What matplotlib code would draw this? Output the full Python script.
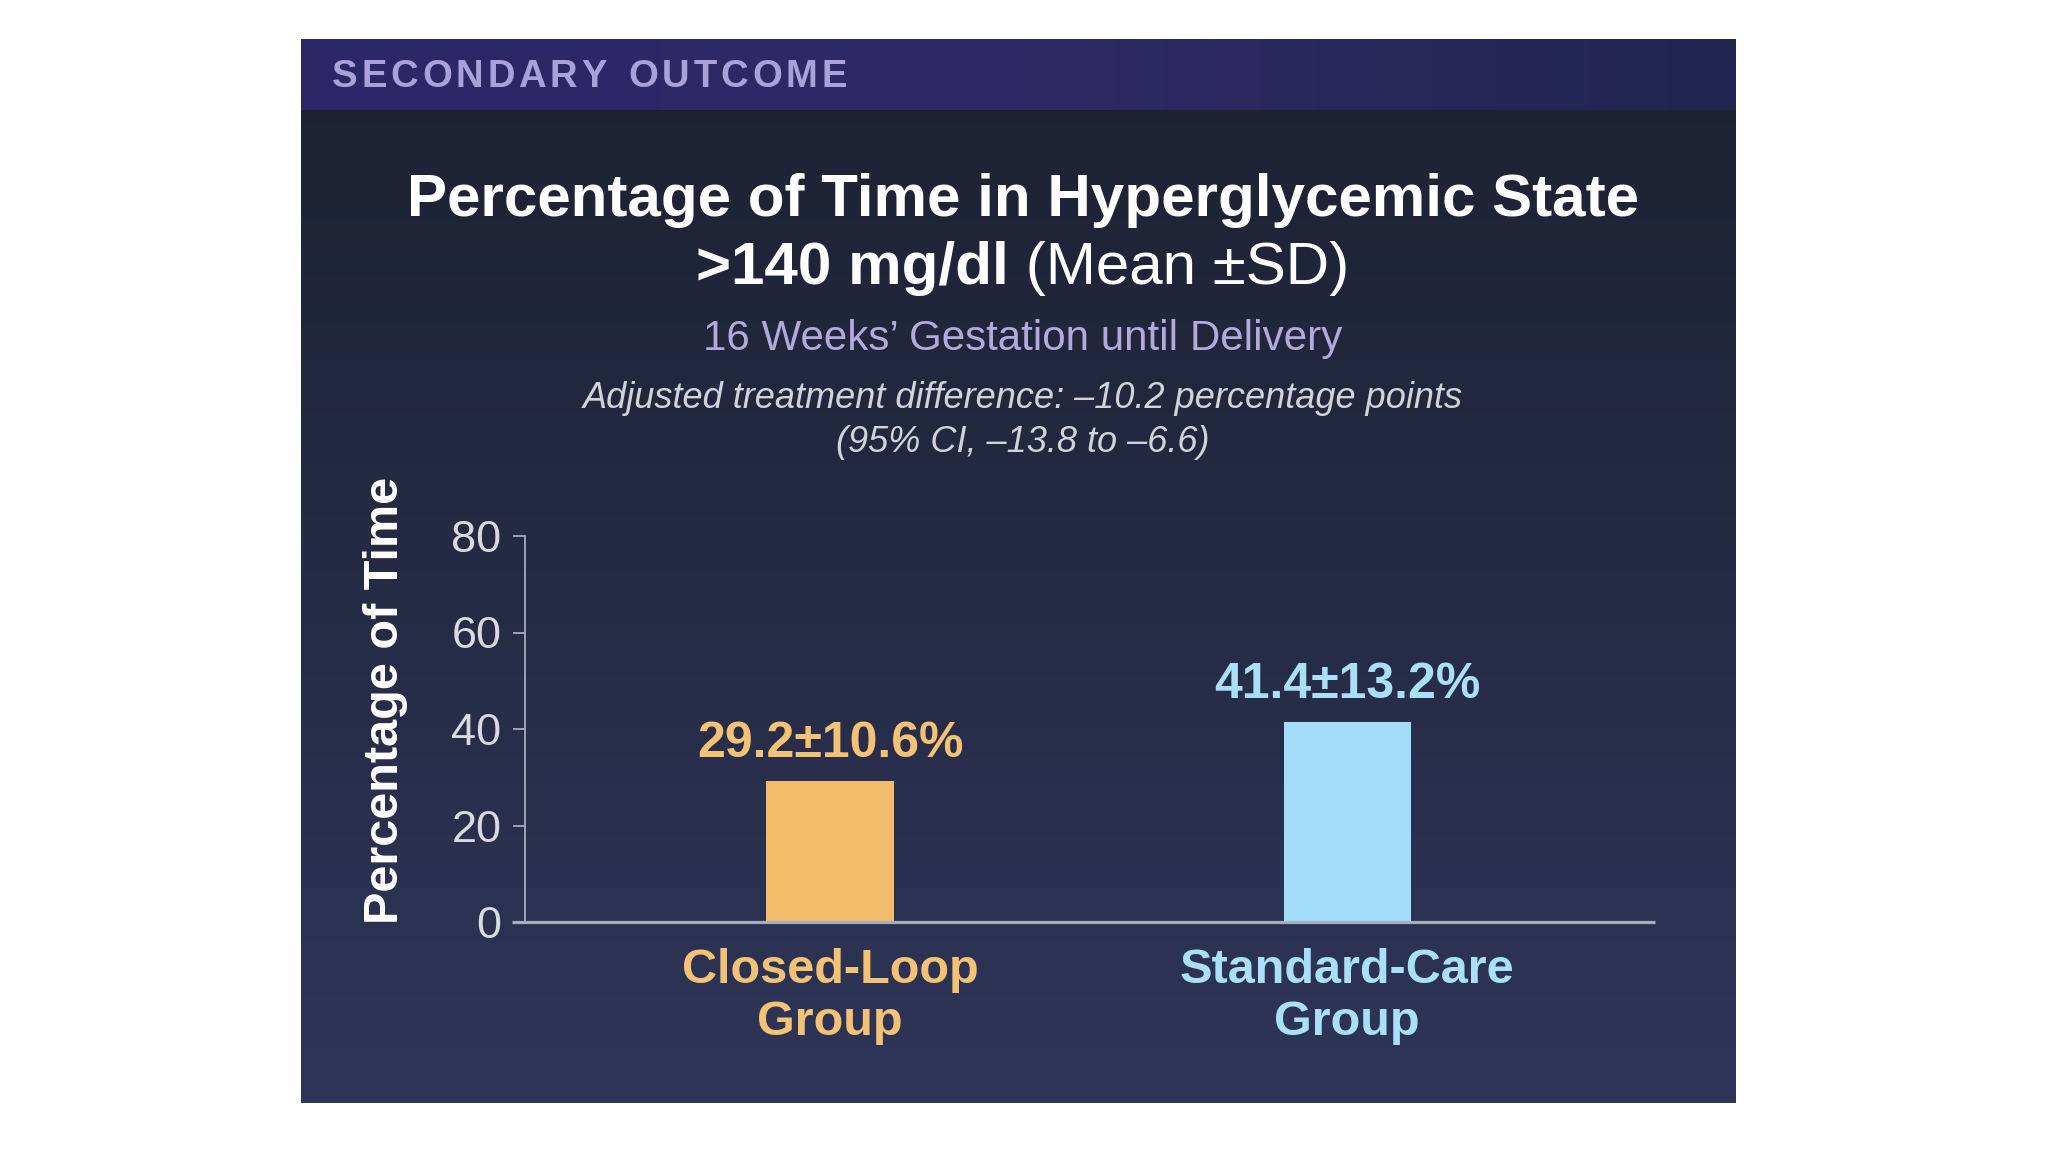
import numpy as np
import matplotlib
matplotlib.use("Agg")
import matplotlib.pyplot as plt
from matplotlib.colors import LinearSegmentedColormap

# ---- data ----
categories = ["Closed-Loop\nGroup", "Standard-Care\nGroup"]
means = [29.2, 41.4]
sds = [10.6, 13.2]
value_labels = ["29.2\u00b110.6%", "41.4\u00b113.2%"]
yticks = [0, 20, 40, 60, 80]

bar_colors = ["#f2bd6b", "#a3ddfa"]
label_colors = ["#f3c274", "#a9e0f8"]

W, H = 2048, 1152
fig = plt.figure(figsize=(W / 100, H / 100), dpi=100, facecolor="white")
plt.rcParams['font.family'] = ['Liberation Sans', 'DejaVu Sans']

def fx(px):
    return px / W

def fy(py):
    return 1 - py / H

# ---- panel background ----
pl, pr, pt, pb = 301, 1736, 39, 1103
bg = fig.add_axes([fx(pl), fy(pb), fx(pr - pl), (pb - pt) / H])
bg.set_axis_off()
grad = np.linspace(0, 1, 256).reshape(-1, 1)
cmap_body = LinearSegmentedColormap.from_list("body", ["#1c2131", "#252b44", "#2f3558"])
bg.imshow(grad, aspect="auto", cmap=cmap_body, extent=[0, 1, 0, 1], origin="upper")
# header band
hb = 110
hdr = fig.add_axes([fx(pl), fy(hb), fx(pr - pl), (hb - pt) / H])
hdr.set_axis_off()
hgrad = np.linspace(0, 1, 256).reshape(1, -1)
cmap_hdr = LinearSegmentedColormap.from_list("hdr", ["#2c2868", "#2e2a66", "#222550"])
hdr.imshow(hgrad, aspect="auto", cmap=cmap_hdr, extent=[0, 1, 0, 1])
hdr.set_xlim(0, 1)
hdr.set_ylim(0, 1)

renderer = fig.canvas.get_renderer()

# header text with letter spacing
htxt = "SECONDARY OUTCOME"
xcur = 332
for ch in htxt:
    t = fig.text(fx(xcur), fy(77), ch, fontsize=27.5, fontweight="bold",
                 color="#a9a2da", ha="left", va="center", family=["Liberation Sans", "DejaVu Sans"])
    if ch == " ":
        w = 14
    else:
        w = t.get_window_extent(renderer).width
    xcur += w + 3.8

cx = 1023
# title line 1
fig.text(fx(cx), fy(201), "Percentage of Time in Hyperglycemic State",
         fontsize=43.3, fontweight="bold", color="white", ha="center", va="center")
# title line 2 mixed weight
p1 = ">140 mg/dl"
p2 = " (Mean \u00b1SD)"
t1 = fig.text(0, fy(268), p1, fontsize=43.3, fontweight="bold", color="white", ha="left", va="center")
t2 = fig.text(0, fy(268), p2, fontsize=43.3, fontweight="normal", color="white", ha="left", va="center")
w1 = t1.get_window_extent(renderer).width
w2 = t2.get_window_extent(renderer).width
x0 = cx - (w1 + w2) / 2
t1.set_x(fx(x0))
t2.set_x(fx(x0 + w1))

fig.text(fx(cx), fy(339), "16 Weeks\u2019 Gestation until Delivery",
         fontsize=30.3, color="#b3a9dc", ha="center", va="center")
fig.text(fx(cx), fy(398), "Adjusted treatment difference: \u201310.2 percentage points",
         fontsize=26, fontstyle="italic", color="#d2d2da", ha="center", va="center")
fig.text(fx(cx), fy(442), "(95% CI, \u201313.8 to \u20136.6)",
         fontsize=26, fontstyle="italic", color="#d2d2da", ha="center", va="center")

# ---- main axes ----
axl, axr, axb, axt = 512, 1655, 922, 536
ax = fig.add_axes([fx(axl), fy(axb), fx(axr - axl), (axb - axt) / H])
ax.set_facecolor("none")
x = np.arange(len(categories))
ax.bar(x, means, width=0.246, color=bar_colors, zorder=2)
ax.set_xlim(-0.615, 1.595)
ax.set_ylim(0, 80)
ax.set_yticks(yticks)
ax.set_yticklabels([str(v) for v in yticks])
for s in ["top", "right"]:
    ax.spines[s].set_visible(False)
ax.spines["left"].set_position(("axes", 13 / (axr - axl)))
ax.spines["left"].set_color("#a8acbf")
ax.spines["left"].set_linewidth(1.3)
ax.spines["left"].set_zorder(3)
ax.spines["bottom"].set_color("#a8acbf")
ax.spines["bottom"].set_linewidth(2.3)
ax.spines["bottom"].set_zorder(3)
ax.spines["bottom"].set_capstyle("butt")
ax.tick_params(axis="y", direction="out", length=9, width=1.3, color="#a8acbf",
               labelsize=32.5, labelcolor="#d9d9e2", pad=8)
ax.set_xticks(x)
ax.set_xticklabels(categories, fontsize=35, fontweight="bold", linespacing=1.2)
ax.tick_params(axis="x", length=0, pad=19)
for lbl, c in zip(ax.get_xticklabels(), label_colors):
    lbl.set_color(c)

for xi, m, lab, c in zip(x, means, value_labels, label_colors):
    ax.annotate(lab, (xi, m), xytext=(0, 10), textcoords="offset points",
                ha="center", va="bottom", fontsize=36, fontweight="bold", color=c)

fig.text(fx(385), fy(700), "Percentage of Time", rotation=90, fontsize=35,
         fontweight="bold", color="white", ha="center", va="center")

fig.savefig("out.png", dpi=100, facecolor="white")
